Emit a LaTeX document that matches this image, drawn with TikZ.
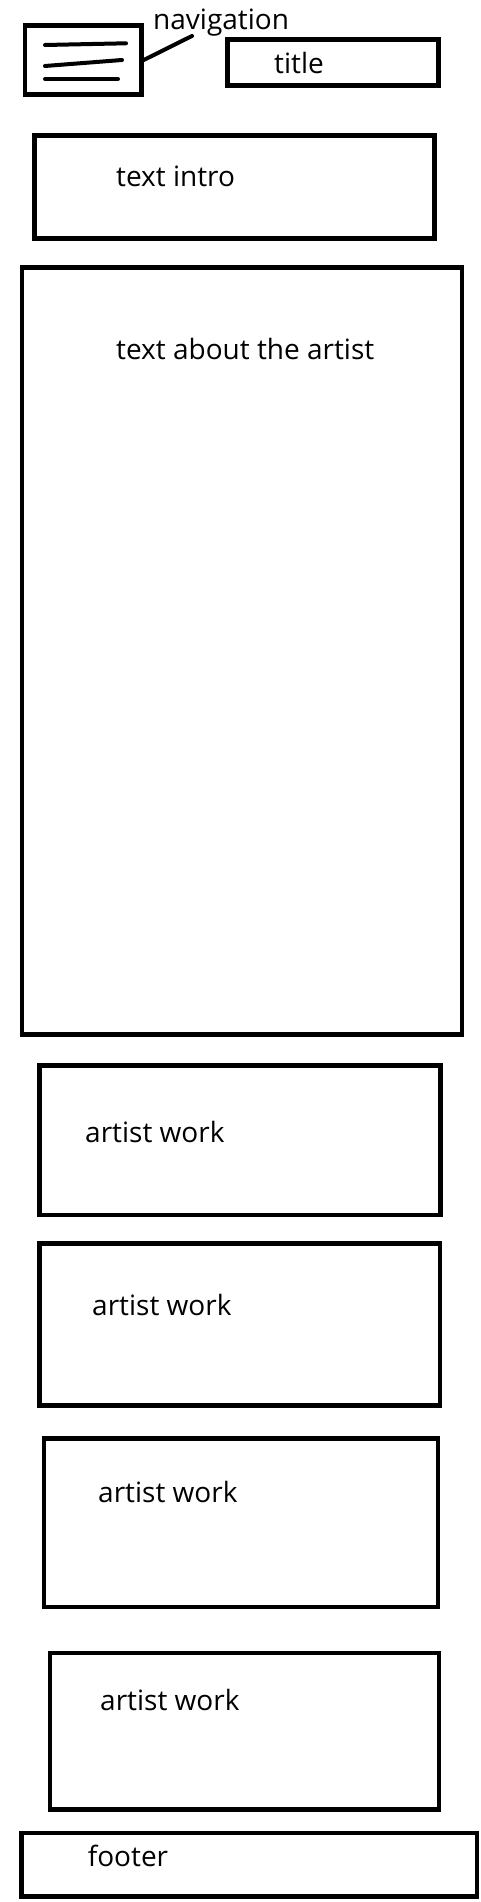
\documentclass[tikz,border=0pt]{standalone}
\usepackage{fontspec}
\setmainfont{Open Sans}
\usepackage{tikz}
\tikzstyle{frame}=[draw,line width=4.5pt,inner sep=0pt]
\tikzstyle{txt}=[anchor=base west,inner sep=0pt,font=\fontsize{28}{32}\selectfont]
\tikzstyle{stroke}=[line width=4pt,line cap=round]

\begin{document}
\begin{tikzpicture}[x=1pt,y=-1pt]
	\useasboundingbox (0,0) rectangle (480,1902);
	
	% header
	\node[frame, minimum width=116.5pt, minimum height=69.4pt] (nav) at (83.25,60) {};
	\draw[stroke] (45,45) -- (126,43.3);
	\draw[stroke] (45,66) -- (122,60);
	\draw[stroke] (45,79) -- (118,79);
	\node[txt] (navtext) at (153,29.5) {navigation};
	\path (192,36) coordinate (navtip);
	\draw[stroke] (nav.east) -- (navtip);
	\node[frame, minimum width=211pt, minimum height=46pt] (title) at (333,62.5) {};
	\node[txt] (titletext) at (274,74) {title};
	
	% main content
	\node[frame, minimum width=400pt, minimum height=103pt] (intro) at (234.5,187) {};
	\node[txt] (introtext) at (116,187) {text intro};
	\node[frame, minimum width=440pt, minimum height=767pt] (about) at (242,651) {};
	\node[txt] (abouttext) at (116,359) {text about the artist};
	
	\foreach \name/\cx/\cy/\w/\h/\tx/\ty in {work1/240/1140.25/401/149.5/85/1142, work2/239.75/1324.5/400.5/162/92/1315, work3/241/1522.75/394/168.5/98/1502, work4/244.5/1731.25/389/156.5/100/1710}
	{
	\node[frame, minimum width=\w pt, minimum height=\h pt] (\name) at (\cx,\cy) {};
	\node[txt] (\name text) at (\tx,\ty) {artist work};
	}
	
	% footer
	\node[frame, minimum width=455.3pt, minimum height=63.5pt] (footer) at (249.35,1864.75) {};
	\node[txt] (footertext) at (87.6,1866.6) {footer};
\end{tikzpicture}
\end{document}
